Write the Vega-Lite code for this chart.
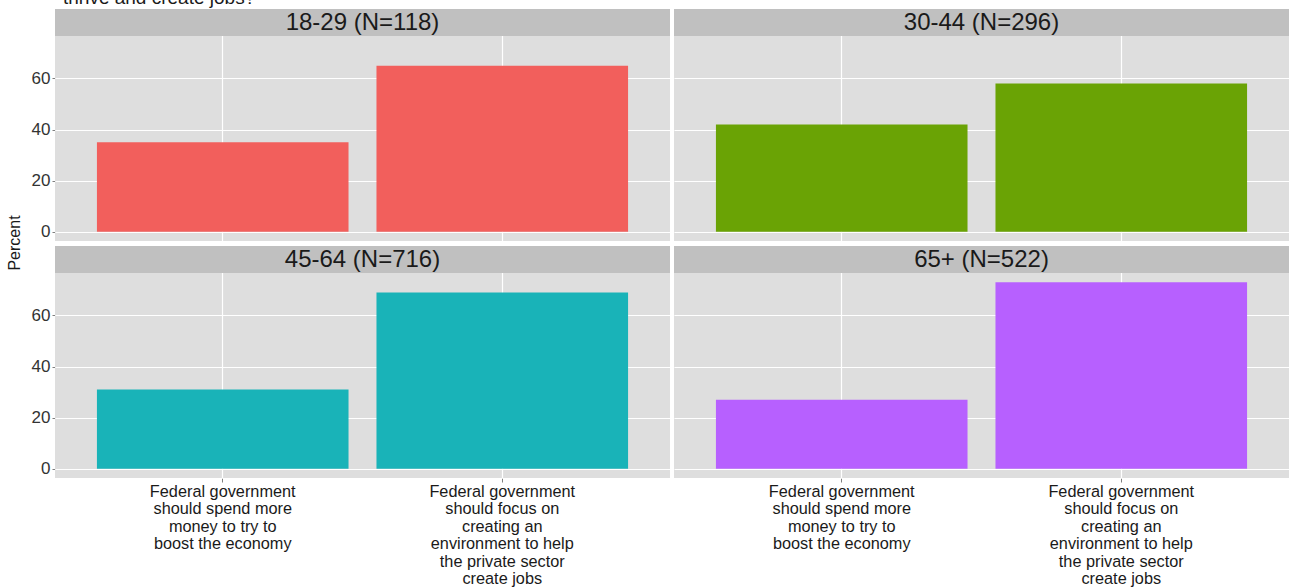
{
  "$schema": "https://vega.github.io/schema/vega-lite/v6.json",
  "padding": {"left": 6, "top": -11, "right": 0, "bottom": 0},
  "title": {"text": "thrive and create jobs?", "anchor": "start", "fontSize": 19, "font": "Liberation Sans", "fontWeight": "normal", "color": "#1a1a1a", "offset": 2, "dx": 56, "dy": 2},
  "data": {"values": [
    {"panel": "18-29 (N=118)", "response": "Federal government should spend more money to try to boost the economy", "pct": 35},
    {"panel": "18-29 (N=118)", "response": "Federal government should focus on creating an environment to help the private sector create jobs", "pct": 65},
    {"panel": "30-44 (N=296)", "response": "Federal government should spend more money to try to boost the economy", "pct": 42},
    {"panel": "30-44 (N=296)", "response": "Federal government should focus on creating an environment to help the private sector create jobs", "pct": 58},
    {"panel": "45-64 (N=716)", "response": "Federal government should spend more money to try to boost the economy", "pct": 31},
    {"panel": "45-64 (N=716)", "response": "Federal government should focus on creating an environment to help the private sector create jobs", "pct": 69},
    {"panel": "65+ (N=522)", "response": "Federal government should spend more money to try to boost the economy", "pct": 27},
    {"panel": "65+ (N=522)", "response": "Federal government should focus on creating an environment to help the private sector create jobs", "pct": 73}
  ]},
  "columns": 2,
  "facet": {
    "field": "panel", "type": "nominal",
    "sort": ["18-29 (N=118)", "30-44 (N=296)", "45-64 (N=716)", "65+ (N=522)"],
    "header": {"title": "Percent", "titleOrient": "left", "titleAngle": 270, "labels": false, "labelExpr": "''", "labelFontSize": 1, "labelPadding": 0, "titleFontSize": 16, "titleFont": "Liberation Sans", "titleFontWeight": "normal", "titleColor": "#1a1a1a", "titlePadding": -8}
  },
  "spacing": {"row": 4, "column": 4},
  "spec": {
    "width": 615,
    "height": 232,
    "layer": [
      {
        "mark": {"type": "bar", "strokeWidth": 0},
        "encoding": {
          "x": {
            "field": "response", "type": "nominal",
            "sort": ["Federal government should spend more money to try to boost the economy", "Federal government should focus on creating an environment to help the private sector create jobs"],
            "scale": {"paddingInner": 0.1, "paddingOuter": 0.15},
            "axis": {
              "title": null, "labelAngle": 0, "domain": false, "grid": true, "gridColor": "#FFFFFF", "gridWidth": 1.2,
              "tickColor": "#7F7F7F", "tickSize": 4, "labelPadding": 1,
              "labelFont": "Liberation Sans", "labelFontSize": 16.3, "labelLineHeight": 17.5, "labelColor": "#1a1a1a", "labelBaseline": "top",
              "labelExpr": "indexof(datum.value, 'spend') >= 0 ? ['Federal government', 'should spend more', 'money to try to', 'boost the economy'] : ['Federal government', 'should focus on', 'creating an', 'environment to help', 'the private sector', 'create jobs']"
            }
          },
          "y": {
            "field": "pct", "type": "quantitative",
            "scale": {"domain": [-3.65, 87.2], "nice": false, "zero": false},
            "axis": {
              "title": null,
              "values": [0, 10, 20, 30, 40, 50, 60, 70], "domain": false,
              "labelExpr": "datum.value % 20 === 0 ? datum.label : ''",
              "tickOpacity": {"condition": {"test": "datum.value % 20 !== 0", "value": 0}, "value": 1},
              "gridColor": {"condition": {"test": "datum.value % 20 !== 0", "value": "#E7E7E7"}, "value": "#FFFFFF"},
              "gridWidth": {"condition": {"test": "datum.value % 20 !== 0", "value": 1}, "value": 1.2},
              "tickColor": "#7F7F7F", "tickSize": 3, "labelPadding": 2,
              "labelFont": "Liberation Sans", "labelFontSize": 17, "labelColor": "#333333"
            }
          },
          "color": {
            "field": "panel", "type": "nominal", "legend": null,
            "scale": {"domain": ["18-29 (N=118)", "30-44 (N=296)", "45-64 (N=716)", "65+ (N=522)"], "range": ["#F25F5C", "#6AA305", "#19B3B8", "#B760FF"]}
          }
        }
      },
      {
        "transform": [{"filter": "indexof(datum.response, 'spend') >= 0"}],
        "mark": {"type": "rect", "color": "#C0C0C0"},
        "encoding": {
          "y": {"datum": 76.65, "type": "quantitative"},
          "y2": {"datum": 87.2}
        }
      },
      {
        "transform": [{"filter": "indexof(datum.response, 'spend') >= 0"}],
        "mark": {"type": "text", "font": "Liberation Sans", "fontSize": 24, "color": "#1a1a1a", "baseline": "middle", "align": "center"},
        "encoding": {
          "y": {"datum": 81.9, "type": "quantitative"},
          "text": {"field": "panel"}
        }
      }
    ]
  },
  "config": {
    "view": {"fill": "#DEDEDE", "stroke": null},
    "font": "Liberation Sans",
    "header": {"labels": false}
  }
}
